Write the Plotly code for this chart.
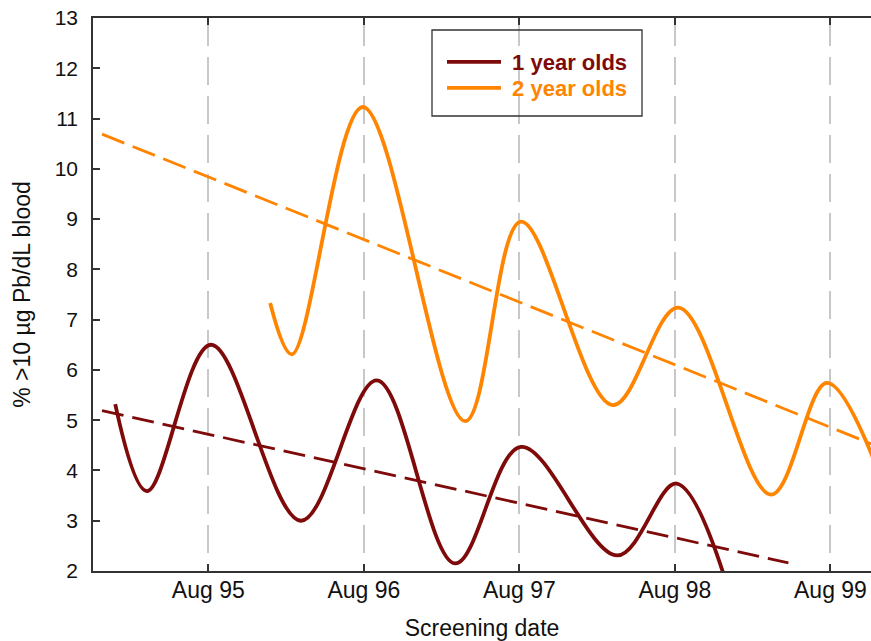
import plotly.graph_objects as go

# Time axis in decimal years (Aug = year + 7/12)
tick_years = [95, 96, 97, 98, 99]
tick_labels = ["Aug 95", "Aug 96", "Aug 97", "Aug 98", "Aug 99"]

# 1 year olds: smoothed screening series (turning points)
x_1yr = [1994.985, 1995.189, 1995.600, 1996.179, 1996.667, 1997.170,
         1997.593, 1998.213, 1998.593, 1998.900]
y_1yr = [5.32, 3.59, 6.50, 3.00, 5.79, 2.15, 4.47, 2.31, 3.74, 1.90]

# 2 year olds
x_2yr = [1995.981, 1996.121, 1996.577, 1997.235, 1997.593, 1998.183,
         1998.606, 1999.201, 1999.559, 1999.870]
y_2yr = [7.33, 6.31, 11.23, 4.98, 8.95, 5.30, 7.24, 3.52, 5.74, 4.15]

# Linear trend lines
trend_1yr_x = [1994.900, 1999.313]
trend_1yr_y = [5.19, 2.16]
trend_2yr_x = [1994.900, 1999.983]
trend_2yr_y = [10.69, 4.36]

series_names = ["1 year olds", "2 year olds"]
col_1 = "#7E0A0A"
col_2 = "#FF8400"

tickvals = [1900 + y + 7 / 12 for y in tick_years]

fig = go.Figure()
fig.add_trace(go.Scatter(x=trend_1yr_x, y=trend_1yr_y, mode="lines",
                         line=dict(color=col_1, width=2.8, dash="22px,9px"),
                         showlegend=False, hoverinfo="skip"))
fig.add_trace(go.Scatter(x=trend_2yr_x, y=trend_2yr_y, mode="lines",
                         line=dict(color=col_2, width=2.8, dash="24px,9px"),
                         showlegend=False, hoverinfo="skip"))
fig.add_trace(go.Scatter(x=x_1yr, y=y_1yr, mode="lines",
                         line=dict(color=col_1, width=3.8, shape="spline", smoothing=1.0),
                         legend="legend",
                         name="<b><span style='color:%s'>\u00a0%s</span></b>" % (col_1, series_names[0])))
fig.add_trace(go.Scatter(x=x_2yr, y=y_2yr, mode="lines",
                         line=dict(color=col_2, width=3.8, shape="spline", smoothing=1.0),
                         legend="legend2",
                         name="<b><span style='color:%s'>\u00a0%s</span></b>" % (col_2, series_names[1])))

font_family = "Arial, Liberation Sans, sans-serif"

legend_common = dict(xanchor="left", yanchor="top", bgcolor="rgba(0,0,0,0)", borderwidth=0,
                     font=dict(size=22, family=font_family), itemwidth=54)

fig.update_layout(
    width=871, height=641,
    margin=dict(l=93, r=0, t=18, b=70),
    plot_bgcolor="white", paper_bgcolor="white",
    font=dict(family=font_family, size=21, color="#111111"),
    showlegend=True,
    legend=dict(x=(442 - 93) / 778, y=(571 - 41) / 553, **legend_common),
    legend2=dict(x=(442 - 93) / 778, y=(571 - 67) / 553, **legend_common),
    shapes=[dict(type="rect", xref="paper", yref="paper",
                 x0=(432 - 93) / 778, x1=(642 - 93) / 778,
                 y0=(571 - 116) / 553, y1=(571 - 30) / 553,
                 line=dict(color="#333333", width=1.3), fillcolor="rgba(0,0,0,0)",
                 layer="above")],
)

fig.update_xaxes(
    range=[1994.842, 1999.844],
    tickvals=tickvals, ticktext=tick_labels,
    showline=True, linecolor="#333333", linewidth=1.6, mirror="ticks",
    ticks="inside", ticklen=7, tickcolor="#333333", tickwidth=1.6,
    showgrid=True, gridcolor="#C8C8C8", gridwidth=1.6, griddash="28px,11px",
    zeroline=False, ticklabelstandoff=-2,
    title=dict(text="Screening date", font=dict(size=23), standoff=17),
    tickfont=dict(size=23),
)
fig.update_yaxes(
    range=[2, 13], dtick=1, tick0=2,
    showline=True, linecolor="#333333", linewidth=1.6, mirror=False,
    ticks="inside", ticklen=7, tickcolor="#333333", tickwidth=1.6,
    showgrid=False, zeroline=False, ticklabelstandoff=9,
    title=dict(text="% >10 µg Pb/dL blood", font=dict(size=23), standoff=18),
    tickfont=dict(size=21),
)

fig.write_html("out.html")
